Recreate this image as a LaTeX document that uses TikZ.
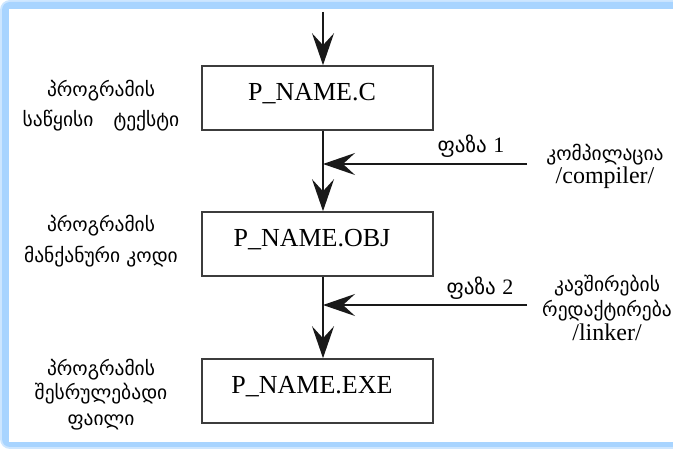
\documentclass[tikz,border=0pt]{standalone}
\usepackage{fontspec}
\setmainfont{Liberation Serif}
\newfontfamily\geo{DejaVu Sans}
\usetikzlibrary{arrows.meta}

\definecolor{framecol}{RGB}{168,212,255}
\definecolor{framesoft}{RGB}{205,230,255}
\definecolor{boxcol}{RGB}{60,60,60}
\definecolor{linecol}{RGB}{25,25,25}

\newcommand\tightlines{\lineskiplimit=-50pt\relax}

\begin{document}
\begin{tikzpicture}[x=1pt,y=-1pt,
  filebox/.style={draw=boxcol, line width=1.6pt, minimum width=231pt,
    minimum height=64pt, inner sep=0pt, text height=12pt, text depth=7.4pt,
    font=\fontsize{26}{26}\selectfont},
  flow/.style={draw=linecol, line width=1.4pt,
    -{Stealth[length=32pt,width=22pt,inset=12pt]}},
  % multi-line labels: the base anchor sits on the last line
  geolabel/.style={align=center, anchor=base, inner sep=0pt},
  phase/.style={anchor=base, inner sep=0pt,
    font=\geo\fontsize{21}{21}\selectfont}]
\useasboundingbox (0,0) rectangle (673,449);

% light blue frame, open on the right
\fill[framesoft, rounded corners=10pt] (0,0) rectangle (720,449);
\fill[framecol, rounded corners=8pt] (2,2) rectangle (720,447);
\fill[white] (9,9) rectangle (720,442);

% the three files
\node[filebox] (src) at (317.5,98)  {P\_NAME.C\hspace*{11pt}};
\node[filebox] (obj) at (317.5,244) {P\_NAME.OBJ\hspace*{11pt}};
\node[filebox] (exe) at (317.5,391) {P\_NAME.EXE\hspace*{11pt}};

% connectors
\coordinate (in)  at (323,12);
\coordinate (cmp) at (527,164);
\coordinate (lnk) at (527,305);
\draw[flow] (in) -- (in |- src.north);
\draw[flow] (src.south -| in) -- (obj.north -| in);
\draw[flow] (obj.south -| in) -- (exe.north -| in);
\draw[flow] (cmp) -- (cmp -| in);
\draw[flow] (lnk) -- (lnk -| in);

% left descriptions
\node[geolabel, font=\geo\fontsize{19.5}{30}\selectfont] (d1) at (101,127)
  {პროგრამის\\საწყისი\hspace{14pt} ტექსტი};
\node[geolabel, font=\geo\fontsize{19.5}{31}\selectfont] (d2) at (101,263)
  {პროგრამის\\მანქანური კოდი};
\node[geolabel, font=\geo\fontsize{19.5}{25}\selectfont] (d3) at (101,425)
  {პროგრამის\\შესრულებადი\\ფაილი};

% phase labels
\node[phase] (p1) at (471,153) {ფაზა {\rmfamily\fontsize{22}{22}\selectfont 1}};
\node[phase] (p2) at (480,295) {ფაზა {\rmfamily\fontsize{22}{22}\selectfont 2}};

% tools
\node[geolabel, font={\geo\fontsize{19.5}{23}\selectfont\tightlines}] (t1) at (605,184)
  {კომპილაცია\\{\rmfamily\fontsize{24}{23}\selectfont /compiler/}};
\node[geolabel, font={\geo\fontsize{19.5}{24.5}\selectfont\tightlines}] (t2) at (607,341)
  {კავშირების\\რედაქტირება\\{\rmfamily\fontsize{24}{24.5}\selectfont /linker/}};
\end{tikzpicture}
\end{document}
